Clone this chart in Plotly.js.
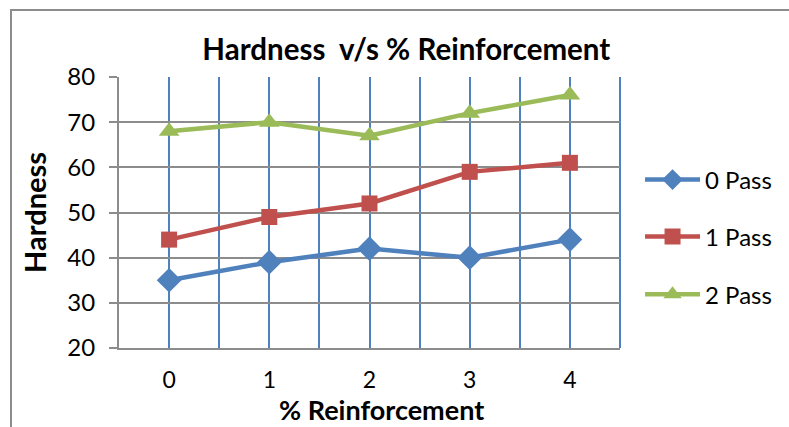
<!DOCTYPE html>
<html><head><meta charset="utf-8">
<script src="https://cdn.plot.ly/plotly-3.0.1.min.js"></script>
<style>
html,body{margin:0;padding:0;background:#fff;overflow:hidden}
#chart{width:789px;height:427px;position:relative}
#frame{position:absolute;left:10px;top:9px;width:820px;height:460px;border:2px solid #8c8c8c;pointer-events:none;box-sizing:border-box}
</style></head>
<body>
<div id="chart"></div>
<div id="frame"></div>
<script>
const categories = [0, 1, 2, 3, 4];
const pass0 = [35, 39, 42, 40, 44];
const pass1 = [44, 49, 52, 59, 61];
const pass2 = [68, 70, 67, 72, 76];
const seriesNames = ["0 Pass", "1 Pass", "2 Pass"];
const yTicks = [20, 30, 40, 50, 60, 70, 80];
const xTitle = "% Reinforcement";

const FONT = "Lato, 'Open Sans', sans-serif";
const BLUE_GRID = "#4F81BD";
const traces = [
  {x: categories, y: pass0, name: seriesNames[0], mode: "lines+markers", legend: "legend",
   line: {color: "#4F81BD", width: 4.5}, marker: {symbol: "diamond", size: 19, color: "#4F81BD"}},
  {x: categories, y: pass1, name: seriesNames[1], mode: "lines+markers", legend: "legend2",
   line: {color: "#C0504D", width: 4.5}, marker: {symbol: "square", size: 16, color: "#C0504D"}},
  {x: categories, y: pass2, name: seriesNames[2], mode: "lines+markers", legend: "legend3",
   line: {color: "#9BBB59", width: 4.5}, marker: {symbol: "triangle-up", size: 18, color: "#9BBB59"}}
];
const legBase = {x: 1.04, xanchor: "left", yanchor: "middle", bgcolor: "rgba(0,0,0,0)",
  font: {family: FONT, size: 24, color: "#000"}, itemwidth: 55, tracegroupgap: 0};
const layout = {
  width: 789, height: 427,
  margin: {l: 119, r: 166, t: 77, b: 79},
  paper_bgcolor: "rgba(0,0,0,0)", plot_bgcolor: "#fff",
  font: {family: FONT, color: "#000"},
  title: {text: "<b>Hardness  v/s % Reinforcement</b>", font: {family: FONT, size: 29.5, color: "#000"},
    x: 0.515, xanchor: "center", y: 0.883, yanchor: "middle"},
  xaxis: {range: [-0.5, 4.5], tickmode: "array", tickvals: categories, ticktext: categories.map(String),
    showgrid: true, gridcolor: BLUE_GRID, gridwidth: 2,
    minor: {tickmode: "array", tickvals: [-0.5, 0.5, 1.5, 2.5, 3.5, 4.5], showgrid: true, gridcolor: BLUE_GRID, gridwidth: 2},
    showline: true, linecolor: "#8c8c8c", linewidth: 2, ticks: "", zeroline: false,
    tickfont: {family: FONT, size: 23, color: "#000"}, ticklabelstandoff: 10},
  yaxis: {range: [20, 80], tickmode: "array", tickvals: yTicks, ticktext: yTicks.map(String),
    showgrid: true, gridcolor: "#8c8c8c", gridwidth: 2, zeroline: false,
    showline: true, linecolor: "#8c8c8c", linewidth: 2, ticks: "outside", ticklen: 8, tickcolor: "#8c8c8c", tickwidth: 2,
    tickfont: {family: FONT, size: 24, color: "#000"}, ticklabelstandoff: 9,
    title: {text: "<b>Hardness</b>", font: {family: FONT, size: 29, color: "#000"}, standoff: 12}},
  annotations: [{text: "<b>" + xTitle + "</b>", xref: "paper", yref: "paper", x: 0.524, y: -0.227,
    xanchor: "center", yanchor: "middle", showarrow: false, borderpad: 0,
    font: {family: FONT, size: 27, color: "#000"}}],
  shapes: [{type: "line", xref: "paper", yref: "paper", x0: 1, x1: 1, y0: 0, y1: 1,
    line: {color: BLUE_GRID, width: 2}, layer: "below"}],
  legend: Object.assign({}, legBase, {y: 0.62}),
  legend2: Object.assign({}, legBase, {y: 0.41}),
  legend3: Object.assign({}, legBase, {y: 0.197}),
  showlegend: true
};
Plotly.newPlot("chart", traces, layout, {staticPlot: true});
</script>
</body></html>
